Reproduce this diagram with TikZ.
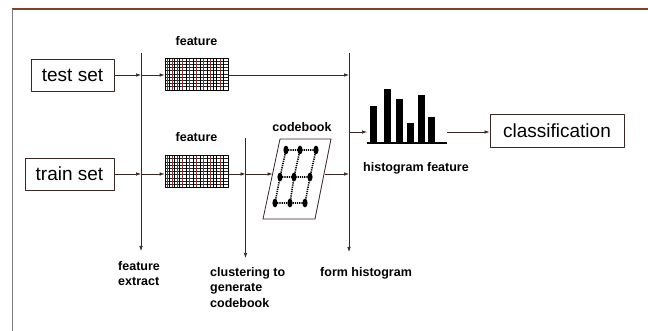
\documentclass[tikz,border=0pt]{standalone}
\usepackage{fontspec}
\setmainfont{Liberation Sans}
\usetikzlibrary{arrows.meta,positioning}
\definecolor{rimbrown}{RGB}{125,65,50}
\definecolor{rimgrey}{RGB}{125,125,125}
\definecolor{linecol}{RGB}{55,40,38}
\definecolor{gridred}{RGB}{120,55,50}

\begin{document}
\begin{tikzpicture}[x=1pt, y=-1pt, line join=round,
  box/.style={draw=linecol, line width=0.8pt, minimum height=32pt, inner sep=0pt,
    font=\fontsize{19}{21}\selectfont},
  lbl/.style={font=\bfseries\fontsize{12.5}{15.5}\selectfont, inner sep=0pt, align=left},
  flow/.style={draw=linecol, line width=0.7pt, -{Latex[length=5pt,width=3.6pt]}},
  featgrid/.style={draw=black, line width=0.7pt, minimum width=63pt, minimum height=32pt,
    inner sep=0pt, path picture={
      \foreach \gy in {3.2,6.4,...,29}
        \draw[black!85, line width=0.6pt]
          ([yshift=-\gy pt]path picture bounding box.north west) --
          ([yshift=-\gy pt]path picture bounding box.north east);
      \foreach \gx/\gc/\gw in {2/gridred/0.6, 4.5/black/0.6, 7/gridred/0.6, 9.5/black/0.6,
          12/gridred/0.6, 14.5/black/0.6, 17.5/gridred/0.6, 21/black/0.6, 24.5/gridred/0.6,
          28/black/0.6, 31.5/gridred/0.6, 35/black/0.6, 38.5/gridred/0.6, 42/black/0.6,
          45.5/gridred/0.6, 48.5/black/0.6, 51.5/black/1.2, 55/gridred/0.6, 58.5/black/0.6}
        \draw[\gc, line width=\gw pt]
          ([xshift=\gx pt]path picture bounding box.north west) --
          ([xshift=\gx pt]path picture bounding box.south west);
    }}]

  \useasboundingbox (0,0) rectangle (648,331);

  % frame
  \draw[rimbrown, line width=1.2pt] (12,9) -- (648,9);
  \draw[rimgrey, line width=1pt] (12,9) -- (12,331);

  % input and output boxes
  \node[box, minimum width=83pt] (testset) at (72.5,75) {test set};
  \node[box, minimum width=89pt] (trainset) at (69.5,174) {train set};
  \node[box, minimum width=134pt, minimum height=33pt] (classif) at (557,130.5) {classification};

  % feature matrices
  \node[featgrid] (feat1) at (196.5,74) {};
  \node[featgrid] (feat2) at (196.5,171.5) {};
  \node[lbl, above=12pt of feat1] (featlbl1) {feature};
  \node[lbl, above=13pt of feat2] (featlbl2) {feature};

  % stage lines
  \coordinate (ext top) at (141,53);
  \coordinate (ext end) at (141,251);
  \coordinate (clus top) at (245.5,138);
  \coordinate (clus end) at (245.5,258);
  \coordinate (form top) at (349,53);
  \coordinate (form end) at (349,252);
  \draw[flow] (ext top) -- (ext end);
  \draw[flow] (clus top) -- (clus end);
  \draw[flow] (form top) -- (form end);
  \node[lbl, anchor=north west] (extlbl) at (118,261) {feature\\extract};
  \node[lbl, anchor=north west] (cluslbl) at (210,267) {clustering to\\generate\\codebook};
  \node[lbl, anchor=north west] (formlbl) at (320,267) {form histogram};

  % codebook
  \coordinate (cb nw) at (280,139);
  \coordinate (cb ne) at (331,139);
  \coordinate (cb se) at (315,219);
  \coordinate (cb sw) at (263,219);
  \draw[linecol, line width=0.8pt] (cb nw) -- (cb ne) -- (cb se) -- (cb sw) -- cycle;
  \node[lbl] (cblbl) at (302,127) {codebook};
  \coordinate (d11) at (286,150); \coordinate (d12) at (300,150); \coordinate (d13) at (316,150);
  \coordinate (d21) at (280,177); \coordinate (d22) at (294,177); \coordinate (d23) at (310,177);
  \coordinate (d31) at (275,203); \coordinate (d32) at (290,203); \coordinate (d33) at (305,203);
  \draw[dash pattern=on 1.2pt off 1pt, line width=1.6pt] (d11) -- (d12) -- (d13) (d21) -- (d22) -- (d23)
    (d31) -- (d32) -- (d33) (d11) -- (d21) -- (d31) (d12) -- (d22) -- (d32)
    (d13) -- (d23) -- (d33);
  \foreach \d in {d11,d12,d13,d21,d22,d23,d31,d32,d33}
    \fill (\d) ellipse [x radius=2.6pt, y radius=4.4pt];
  \coordinate (cb in) at (272.5,174);
  \coordinate (cb out) at (324.5,174);

  % histogram
  \foreach \bx/\btop in {370/106, 384/89, 396/99, 407/123, 418/95, 428/117}
    \fill (\bx,143) rectangle ({\bx+7},\btop);
  \draw[line width=2pt] (367,143.5) -- (447,143.5);
  \coordinate (hist in) at (367,132);
  \coordinate (hist out) at (447,132);
  \node[lbl] (histlbl) at (416,168) {histogram feature};

  % test row
  \coordinate (ext a) at (141,75);
  \coordinate (form a) at (349,75);
  \draw[flow] (testset) -- (ext a);
  \draw[flow] (ext a) -- (ext a -| feat1.west);
  \draw[flow] (feat1.east |- form a) -- (form a);

  % train row
  \coordinate (ext b) at (141,174);
  \coordinate (clus b) at (245.5,174);
  \coordinate (form b) at (349,174);
  \draw[flow] (trainset) -- (ext b);
  \draw[flow] (ext b) -- (ext b -| feat2.west);
  \draw[flow] (feat2.east |- clus b) -- (clus b);
  \draw[flow] (clus b) -- (cb in);
  \draw[flow] (cb out) -- (form b);

  % histogram to classification
  \coordinate (form c) at (349,132);
  \draw[flow] (form c) -- (hist in);
  \draw[flow] (hist out) -- (hist out -| classif.west);

\end{tikzpicture}
\end{document}
